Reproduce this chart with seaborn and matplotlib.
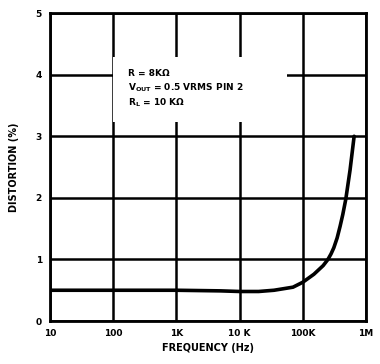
import matplotlib
matplotlib.use('Agg')
import matplotlib.pyplot as plt
import seaborn as sns
import pandas as pd
from matplotlib.patches import Rectangle

# 讀圖估計的數值
freq = [10, 100, 1000, 5000, 10000, 20000, 35000, 70000, 100000, 150000,
        210000, 250000, 280000, 310000, 350000, 390000, 430000, 480000,
        560000, 650000]
distortion = [0.5, 0.5, 0.5, 0.49, 0.48, 0.48, 0.5, 0.55, 0.63, 0.76,
              0.9, 1.0, 1.09, 1.19, 1.35, 1.54, 1.73, 1.98, 2.45, 3.0]
x_ticks = [10, 100, 1000, 10000, 100000, 1000000]
x_labels = ['10', '100', '1K', '10 K', '100K', '1M']
y_ticks = [0, 1, 2, 3, 4, 5]

df = pd.DataFrame({'freq': freq, 'distortion': distortion})

sns.set_style('white')
plt.rcParams['font.family'] = ['DejaVu Sans']
plt.rcParams['text.color'] = 'black'
plt.rcParams['axes.labelcolor'] = 'black'
plt.rcParams['xtick.color'] = 'black'
plt.rcParams['ytick.color'] = 'black'

fig = plt.figure(figsize=(3.8, 3.64), dpi=100)
ax = fig.add_axes([0.132, 0.118, 0.831, 0.846])

sns.lineplot(data=df, x='freq', y='distortion', color='black', linewidth=2.6, ax=ax, zorder=3)

ax.set_xscale('log')
ax.set_xlim(10, 1e6)
ax.set_ylim(0, 5)
ax.set_xticks(x_ticks)
ax.set_xticklabels(x_labels)
ax.set_yticks(y_ticks)
ax.minorticks_off()
ax.tick_params(length=0, labelsize=6.5, pad=6)
for lab in ax.get_xticklabels() + ax.get_yticklabels():
    lab.set_fontweight('bold')

ax.grid(True, color='black', linewidth=1.8)
for s in ax.spines.values():
    s.set_color('black')
    s.set_linewidth(2)

# 文字區塊把格線遮住
ax.add_patch(Rectangle((0.20, 0.646), 0.55, 0.211, transform=ax.transAxes,
                       facecolor='white', edgecolor='none', zorder=2))
ax.text(0.247, 0.805, 'R = 8KΩ', transform=ax.transAxes, fontsize=6.5,
        fontweight='bold', va='center', zorder=4)
ax.text(0.247, 0.756, r'V$_{\mathbf{OUT}}$ = 0.5 VRMS PIN 2', transform=ax.transAxes,
        fontsize=6.5, fontweight='bold', va='center', zorder=4)
ax.text(0.247, 0.708, r'R$_{\mathbf{L}}$ = 10 KΩ', transform=ax.transAxes, fontsize=6.5,
        fontweight='bold', va='center', zorder=4)

ax.set_xlabel('FREQUENCY (Hz)', fontsize=7, fontweight='bold', labelpad=3)
ax.set_ylabel('DISTORTION (%)', fontsize=7, fontweight='bold', labelpad=12)

fig.savefig('out.png', dpi=100)
